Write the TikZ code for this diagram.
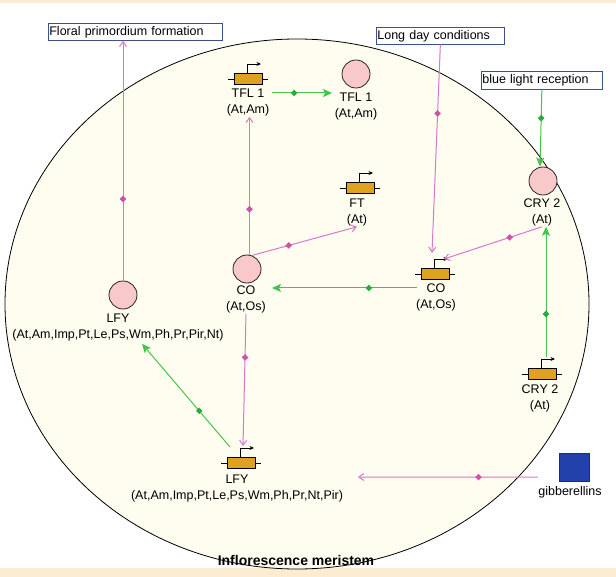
\documentclass[tikz,border=0pt]{standalone}
\usepackage{fontspec}
\setmainfont{Liberation Sans}
\usetikzlibrary{shapes.geometric,arrows.meta,calc}

\definecolor{pinkline}{RGB}{216,120,200}
\definecolor{pinkdot}{RGB}{208,80,170}
\definecolor{greenline}{RGB}{70,195,75}
\definecolor{greendot}{RGB}{40,170,60}
\definecolor{genegold}{RGB}{222,162,32}
\definecolor{protfill}{RGB}{249,200,200}
\definecolor{cellcream}{RGB}{254,253,240}
\definecolor{stripbeige}{RGB}{252,236,210}
\definecolor{gibblue}{RGB}{35,65,170}
\definecolor{boxedge}{RGB}{60,80,140}

\tikzset{
  every node/.style={font=\fontsize{12.5}{16}\selectfont, inner sep=0pt},
  prot/.style={circle, draw=black!85, line width=0.8pt, fill=protfill, minimum size=28pt},
  % the base anchor of a two-line label sits on its second line
  lbl/.style={anchor=base, align=center},
  genebox/.style={rectangle, draw=black, line width=0.8pt, fill=genegold, minimum width=28pt, minimum height=11pt},
  gene/.pic={
    \node[genebox] (-b) at (0,0) {};
    \draw[line width=0.7pt] (-20,0) -- (-14,0) (14,0) -- (20,0);
    \draw[line width=0.7pt, -{Stealth[length=4.5pt,width=4pt]}] (-1,-5.5) -- (-1,-15) -- (13,-15);
  },
  infobox/.style={draw=boxedge, line width=0.7pt, fill=white, anchor=north west, align=left, inner xsep=1pt, minimum height=17pt},
  pinkarr/.style={draw=pinkline, line width=1pt, -{Straight Barb[length=5pt,width=7pt]}},
  greenarr/.style={draw=greenline, line width=1pt, -{Stealth[length=9pt,width=8pt,inset=2pt]}},
  pdot/.style={diamond, fill=pinkdot, minimum size=7pt},
  gdot/.style={diamond, fill=greendot, minimum size=7pt},
}

\begin{document}
\begin{tikzpicture}[x=1pt,y=-1pt]
\useasboundingbox (0,0) rectangle (616,577);

% page background, light strips and the meristem outline
\fill[white] (0,0) rectangle (616,577);
\fill[stripbeige] (0,0) rectangle (616,3);
\fill[stripbeige] (0,568) rectangle (616,577);
\draw[fill=cellcream, line width=0.8pt] (297,304) ellipse [x radius=292, y radius=265];

% external signals
\node[infobox, text width=172pt, minimum width=174pt] (fp) at (48,23) {Floral primordium formation};
\node[infobox, text width=126pt, minimum width=128pt] (ld) at (376,27) {Long day conditions};
\node[infobox, text width=119pt, minimum width=121pt, minimum height=18pt] (bl) at (481,71) {blue light reception};

% gene products
\node[prot] (tflp) at (356,74) {};
\node[lbl] (tflpL) at (356,118) {TFL 1\\(At,Am)};
\node[prot] (cryp) at (543,181) {};
\node[lbl] (cryL) at (542,224) {CRY 2\\(At)};
\node[prot] (cop) at (247,269) {};
\node[lbl] (copL) at (246,311) {CO\\(At,Os)};
\node[prot] (lfyp) at (123,295) {};
\node[lbl] (lfypL) at (118,338) {LFY\\(At,Am,Imp,Pt,Le,Ps,Wm,Ph,Pr,Pir,Nt)};

% genes
\pic (tflg) at (248,79) {gene};
\node[lbl] (tflgL) at (248,114) {TFL 1\\(At,Am)};
\pic (ftg) at (360,188) {gene};
\node[lbl] (ftL) at (357,224) {FT\\(At)};
\pic (cog) at (435,274) {gene};
\node[lbl] (cogL) at (436,309) {CO\\(At,Os)};
\pic (cryg) at (542,374) {gene};
\node[lbl] (crygL) at (540,409) {CRY 2\\(At)};
\pic (lfyg) at (241,463) {gene};
\node[lbl] (lfygL) at (237,499) {LFY\\(At,Am,Imp,Pt,Le,Ps,Wm,Ph,Pr,Nt,Pir)};

% hormone
\node[rectangle, fill=gibblue, draw=gibblue!70!black, minimum width=30pt, minimum height=28pt] (gib) at (574,467) {};
\node[lbl] (gibL) at (570,495) {gibberellins};

\node[anchor=base, font=\fontsize{14}{16}\selectfont\bfseries] (im) at (296,565) {Inflorescence meristem};

% interactions
\draw[pinkarr] (lfyp.north) -- node[pdot,pos=.34] (d1) {} (lfyp.north |- fp.south);
\draw[pinkarr] (ld.south) -- node[pdot,pos=.33] (d2) {} ($(cog-b)+(-3,-21)$);
\draw[greenarr] (bl.south) -- node[gdot,pos=.37] (d3) {} ($(cryp.north)+(-3,0)$);
\draw[greenarr] ($(tflg-b)+(24,14)$) -- node[gdot,pos=.37] (d4) {} ($(tflp)+(-24,19)$);
\draw[pinkarr] (cop.80) -- node[pdot,pos=.33] (d5) {} (cop.80 |- tflgL.south);
\draw[pinkarr] (cop.70) -- node[pdot,pos=.35] (d6) {} (ftL.south);
\draw[pinkarr] (copL.south) -- node[pdot,pos=.33] (d7) {} ($(lfyg-b.north)+(2,-11)$);
\draw[greenarr] ($(cog-b.west)+(-4,14)$) -- node[gdot,pos=.33] (d8) {} ($(cop)+(25,19)$);
\draw[pinkarr] (cryL.south) -- node[pdot,pos=.33] (d9) {} ($(cog-b)+(9,-15)$);
\draw[greenarr] ($(cryg-b)+(4,-17)$) -- node[gdot,pos=.33] (d10) {} ($(cryL.south)+(4,0)$);
\draw[greenarr] ($(lfyg-b)+(-11,-16)$) -- node[gdot,pos=.35] (d11) {} ($(lfypL.south)+(24,3)$);
\coordinate (gibend) at (358,477);
\draw[pinkarr] ($(gib.south west)+(-21,-4)$) -- node[pdot,pos=.33] (d12) {} (gibend);
\end{tikzpicture}
\end{document}
